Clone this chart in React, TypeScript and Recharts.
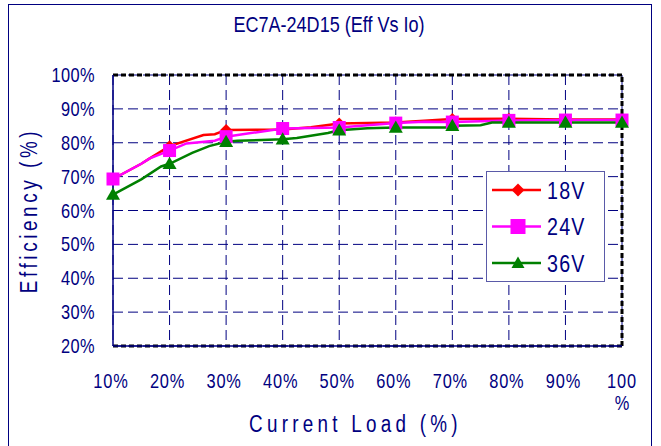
import React from 'react';
import { LineChart, Line, XAxis, YAxis, CartesianGrid, ReferenceLine, Legend } from 'recharts';

const chartTitle = 'EC7A-24D15 (Eff Vs Io)';
const xAxisTitle = 'Current Load (%)';
const yAxisTitle = 'Efficiency (%)';

const xTicks = [10, 20, 30, 40, 50, 60, 70, 80, 90, 100];
const yTicks = [20, 30, 40, 50, 60, 70, 80, 90, 100];

const load18 = [10, 15, 16.5, 20, 26, 28, 30, 40, 45, 50, 60, 70, 80, 90, 100];
const eff18 = [69.3, 73.8, 75.4, 79.0, 82.3, 82.5, 83.8, 83.9, 84.6, 85.7, 86.0, 87.0, 87.1, 86.9, 86.9];

const load24 = [10, 15, 16.5, 20, 23, 28, 30, 40, 50, 60, 65, 70, 80, 90, 100];
const eff24 = [69.3, 73.8, 75.4, 77.7, 79.8, 80.6, 81.8, 84.2, 84.5, 85.8, 86.2, 86.1, 86.6, 86.7, 86.7];

const load36 = [10, 15, 18.5, 20, 24, 27, 30, 32, 40, 42.5, 48, 50, 55, 60, 68.8, 70, 75, 77, 80, 90, 100];
const eff36 = [64.7, 69.2, 73.0, 73.8, 77.0, 79.0, 80.3, 80.6, 81.0, 81.4, 82.9, 83.7, 84.3, 84.5, 84.5, 85.0, 85.2, 86.0, 86.0, 86.0, 86.0];

const zip = (xs: number[], ys: number[]) => xs.map((load, i) => ({ load, eff: ys[i] }));

const NAVY = '#000080';
const FONT = '"Liberation Sans", Arial, sans-serif';
const SQ = 0.82; // horizontal condensing of the text

type Shape = 'diamond' | 'square' | 'triangle';

const CText = (p: { x: number; y: number; size: number; anchor?: 'start' | 'middle' | 'end'; spacing?: number; rotate?: number; children: any; baseline?: any }) => (
  <text
    transform={`translate(${p.x} ${p.y})${p.rotate ? ` rotate(${p.rotate})` : ''} scale(${SQ} 1)`}
    x={0} y={0} textAnchor={p.anchor || 'start'} fontSize={p.size} fontFamily={FONT} fill={NAVY}
    letterSpacing={p.spacing || 0} dominantBaseline={p.baseline}
  >{p.children}</text>
);

const drawMarker = (shape: Shape, cx: number, cy: number, color: string, s: number, key?: any) => {
  if (shape === 'diamond') {
    return <polygon key={key} points={`${cx},${cy - s} ${cx + s},${cy} ${cx},${cy + s} ${cx - s},${cy}`} fill={color} />;
  }
  if (shape === 'square') {
    return <rect key={key} x={cx - s} y={cy - s} width={2 * s} height={2 * s} fill={color} />;
  }
  return <polygon key={key} points={`${cx},${cy - s} ${cx + s},${cy + s * 0.75} ${cx - s},${cy + s * 0.75}`} fill={color} />;
};

const makeDot = (shape: Shape, color: string, s: number) => (props: any) => {
  const { cx, cy, payload, index } = props;
  if (payload == null || payload.load % 10 !== 0 || cx == null || cy == null) return <g key={`e${index}`} />;
  return drawMarker(shape, cx, cy, color, s, `d${index}`);
};

const seriesInfo: Record<string, { shape: Shape; color: string }> = {
  '18V': { shape: 'diamond', color: '#FF0000' },
  '24V': { shape: 'square', color: '#FF00FF' },
  '36V': { shape: 'triangle', color: '#008000' },
};

const renderLegend = (props: any) => {
  const payload = (props.payload || []) as any[];
  return (
    <svg width={118} height={110} style={{ display: 'block' }}>
      {payload.map((p, i) => {
        const info = seriesInfo[p.value];
        const y = 18 + i * 36.5;
        return (
          <g key={p.value}>
            <line x1={5} x2={54} y1={y} y2={y} stroke={info.color} strokeWidth={2.5} />
            {drawMarker(info.shape, 31, y, info.color, info.shape === 'square' ? 7.5 : 6.5)}
            <CText x={60} y={y + 8.5} size={24} spacing={1.5}>{p.value}</CText>
          </g>
        );
      })}
    </svg>
  );
};

const XTick = (props: any) => {
  const { x, y, payload } = props;
  const v = payload.value;
  if (v === 100) {
    return (
      <g>
        <CText x={x} y={y + 42} size={20} anchor="middle" spacing={1}>100</CText>
        <CText x={x} y={y + 64} size={20} anchor="middle">%</CText>
      </g>
    );
  }
  return <CText x={x - 2} y={y + 42} size={20} anchor="middle" spacing={1}>{`${v}%`}</CText>;
};

const YTick = (props: any) => {
  const { x, y, payload } = props;
  return <CText x={x} y={y + 7} size={20} anchor="end" spacing={0.5}>{`${payload.value}%`}</CText>;
};

const YLabel = (props: any) => {
  const vb = props.viewBox || {};
  const cx = vb.x + 16;
  const cy = vb.y + vb.height / 2;
  return <CText x={cx} y={cy} size={23} anchor="middle" rotate={-90} spacing={4.4} baseline="central">{yAxisTitle}</CText>;
};

const XLabel = (props: any) => {
  const vb = props.viewBox || {};
  const cx = vb.x + vb.width / 2 - 12;
  const cy = vb.y + 78;
  return <CText x={cx} y={cy} size={23} anchor="middle" spacing={5.2} baseline="central">{xAxisTitle}</CText>;
};

export default function App() {
  return (
    <div style={{ position: 'absolute', left: 0, top: 0, width: 661, height: 446, overflow: 'hidden', background: '#fff' }}>
      <div style={{ position: 'absolute', left: 8, top: 4, width: 644, height: 460, border: `1px solid ${NAVY}`, boxSizing: 'border-box' }} />
      <div style={{ position: 'absolute', left: 0, top: 12, width: 658, textAlign: 'center', fontSize: 22, lineHeight: '26px', color: NAVY, fontFamily: FONT, transform: `scaleX(${SQ})`, transformOrigin: '329px 0' }}>
        {chartTitle}
      </div>
      <div style={{ position: 'absolute', left: 0, top: 0 }}>
        <LineChart width={661} height={446} margin={{ top: 75, right: 39, bottom: 70, left: 13 }}>
          <CartesianGrid stroke={NAVY} strokeDasharray="10 5" strokeWidth={1} />
          <XAxis dataKey="load" type="number" domain={[10, 100]} ticks={xTicks} allowDuplicatedCategory={false}
            axisLine={{ stroke: NAVY, strokeWidth: 1.5 }} tickLine={false} tickSize={0} tickMargin={0} height={30}
            tick={<XTick />} interval={0} label={<XLabel />} />
          <YAxis type="number" domain={[20, 100]} ticks={yTicks} width={100} interval={0}
            axisLine={{ stroke: NAVY, strokeWidth: 1.5 }} tickLine={false} tickSize={0} tickMargin={18}
            tick={<YTick />} label={<YLabel />} />
          <ReferenceLine y={100} stroke="#000" strokeWidth={3} strokeDasharray="5 3" />
          <ReferenceLine y={20} stroke="#000" strokeWidth={3} strokeDasharray="5 3" />
          <ReferenceLine x={100} stroke="#000" strokeWidth={3} strokeDasharray="5 3" />
          <Line data={zip(load18, eff18)} dataKey="eff" name="18V" stroke="#FF0000" strokeWidth={2.5}
            dot={makeDot('diamond', '#FF0000', 6)} activeDot={false} isAnimationActive={false} />
          <Line data={zip(load24, eff24)} dataKey="eff" name="24V" stroke="#FF00FF" strokeWidth={2.5}
            dot={makeDot('square', '#FF00FF', 6.5)} activeDot={false} isAnimationActive={false} />
          <Line data={zip(load36, eff36)} dataKey="eff" name="36V" stroke="#008000" strokeWidth={2.5}
            dot={makeDot('triangle', '#008000', 7)} activeDot={false} isAnimationActive={false} />
          <Legend layout="horizontal" verticalAlign="middle" align="center" content={renderLegend}
            wrapperStyle={{ left: 486, top: 171, width: 119, height: 111, border: '1px solid #5a5aa8', background: '#fff', boxSizing: 'border-box' }} />
        </LineChart>
      </div>
    </div>
  );
}
